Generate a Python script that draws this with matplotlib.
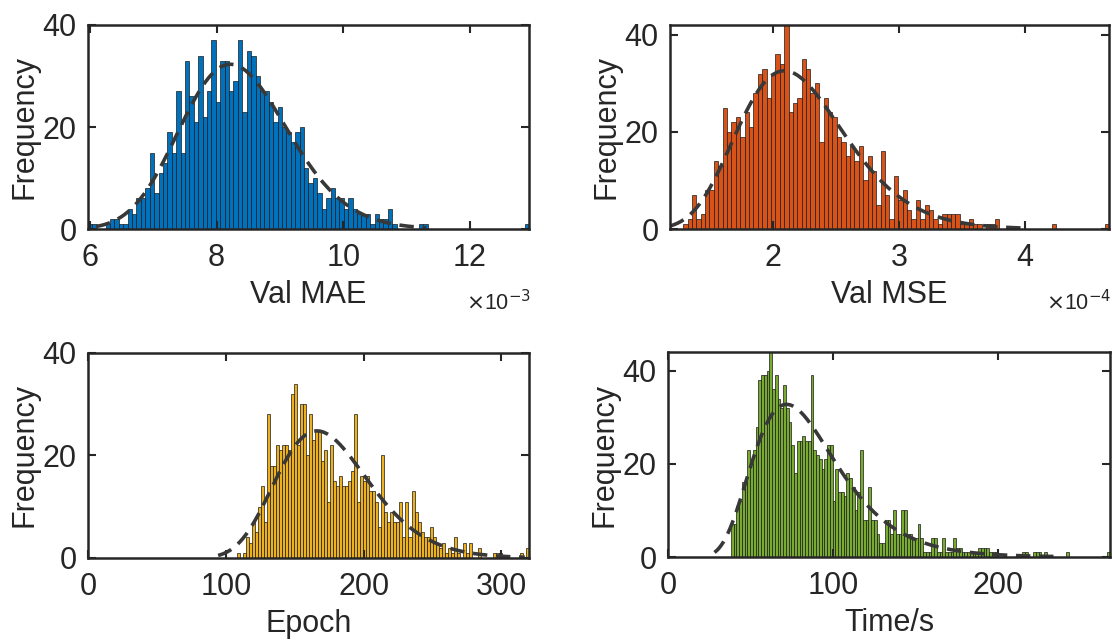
import numpy as np
import matplotlib
matplotlib.use('Agg')
import matplotlib.pyplot as plt

plt.rcParams['font.family'] = ['Liberation Sans', 'DejaVu Sans']
plt.rcParams['font.size'] = 22

# ---- data (bin counts, bins span [lo, hi]) ----
mae_lo, mae_hi = 5.97, 12.93          # x 1e-3
mae_counts = [1, 1, 0, 0, 1, 2, 2, 1, 1, 4, 3, 6, 6, 8, 15, 7, 11, 13, 19, 15,
              27, 15, 33, 26, 21, 34, 22, 27, 37, 25, 33, 33, 27, 29, 37, 23, 35, 34, 30, 27,
              27, 25, 21, 24, 20, 19, 17, 19, 20, 12, 9, 10, 7, 4, 6, 8, 6, 6, 4, 6,
              4, 3, 3, 3, 1, 3, 2, 2, 4, 1, 0, 0, 0, 0, 0, 1, 1, 0, 0, 0,
              0, 0, 0, 0, 0, 0, 0, 0, 0, 0, 0, 0, 0, 0, 0, 0, 0, 0, 0, 1]

mse_lo, mse_hi = 1.18, 4.67           # x 1e-4
mse_counts = [0, 0, 0, 1, 2, 7, 2, 3, 8, 8, 14, 13, 25, 20, 22, 23, 19, 24, 21, 28,
              32, 33, 27, 32, 36, 34, 42, 24, 26, 27, 35, 33, 28, 30, 18, 27, 24, 23, 19, 18,
              15, 17, 14, 17, 10, 15, 12, 5, 16, 7, 2, 11, 6, 8, 4, 2, 6, 2, 5, 4,
              2, 1, 3, 3, 3, 3, 1, 1, 2, 1, 1, 0, 1, 1, 2, 0, 0, 0, 0, 0,
              0, 0, 0, 0, 0, 0, 0, 1, 0, 0, 0, 0, 0, 0, 0, 0, 0, 0, 0, 1]

epoch_lo, epoch_hi = 108, 320
epoch_counts = [1, 0, 1, 4, 3, 7, 5, 10, 14, 7, 28, 18, 18, 22, 21, 22, 22, 21, 32, 34,
                22, 30, 30, 20, 28, 23, 25, 25, 19, 21, 11, 22, 15, 14, 16, 14, 14, 15, 17, 28,
                11, 16, 15, 16, 13, 13, 11, 6, 20, 9, 7, 9, 7, 7, 11, 4, 11, 4, 13, 9,
                7, 5, 4, 4, 6, 4, 3, 2, 3, 1, 2, 1, 4, 1, 0, 3, 1, 3, 0, 0,
                2, 0, 0, 0, 0, 1, 1, 1, 0, 0, 0, 0, 0, 0, 1, 0, 2]

time_lo, time_hi = 38.2, 268
time_counts = [7, 7, 11, 12, 16, 16, 23, 20, 23, 28, 38, 39, 39, 40, 44, 36, 39, 34, 32, 37,
               32, 29, 24, 18, 25, 25, 26, 25, 25, 39, 23, 22, 21, 19, 21, 24, 24, 12,
               19, 14, 14, 13, 18, 17, 15, 10, 14, 23, 8, 8, 15, 8, 8, 5, 3, 3, 8, 8,
               5, 10, 5, 5, 10, 10, 5, 5, 4, 4, 7, 4, 1, 1, 1, 4, 4, 1,
               1, 4, 1, 1, 1, 4, 2, 2, 1, 1, 1, 1, 1, 1, 2, 2, 2, 2, 1, 1,
               1, 0, 0, 0, 0, 0, 0, 0, 0, 0, 1, 1, 0, 0, 1, 1, 1, 0, 1, 0,
               0, 0, 0, 0, 0, 0, 1, 0, 0, 0, 0, 0, 0, 0, 0, 0, 0, 0, 0, 0,
               0, 1]

panels = [
    # counts, lo, hi, xlim, ylim, xticks, xlabel, color, exponent
    (mae_counts, mae_lo, mae_hi, (mae_lo, mae_hi), 40, [6, 8, 10, 12], 'Val MAE', '#0072BD', '-3'),
    (mse_counts, mse_lo, mse_hi, (mse_lo, mse_hi), 42, [2, 3, 4], 'Val MSE', '#D95319', '-4'),
    (epoch_counts, epoch_lo, epoch_hi, (0, 320), 40, [0, 100, 200, 300], 'Epoch', '#EDB120', None),
    (time_counts, time_lo, time_hi, (0, 268), 44, [0, 100, 200], 'Time/s', '#77AC30', None),
]

W, H = 1112, 641
fig = plt.figure(figsize=(W / 100, H / 100), dpi=100)
rects = [(0.0791, 0.6427, 0.3966, 0.3183),
         (0.6025, 0.6427, 0.3948, 0.3183),
         (0.0791, 0.1295, 0.3966, 0.3198),
         (0.6007, 0.1310, 0.3975, 0.3198)]

dark = '#262626'

for (counts, lo, hi, xl, ytop, xt, xlab, col, expo), r in zip(panels, rects):
    ax = fig.add_axes(r)
    counts = np.array(counts, dtype=float)
    edges = np.linspace(lo, hi, len(counts) + 1)
    bw = edges[1] - edges[0]
    ax.bar(edges[:-1], counts, width=bw, align='edge', color=col,
           edgecolor='#1a1a1a', linewidth=0.5)

    # lognormal fit scaled to histogram area (histfit style, 3-sigma range)
    c = (edges[:-1] + edges[1:]) / 2
    n = counts.sum()
    mu = (counts * np.log(c)).sum() / n
    sg = np.sqrt((counts * (np.log(c) - mu) ** 2).sum() / n)
    x = np.linspace(np.exp(mu - 3 * sg), np.exp(mu + 3 * sg), 200)
    y = n * bw / (x * sg * np.sqrt(2 * np.pi)) * np.exp(-(np.log(x) - mu) ** 2 / (2 * sg ** 2))
    ax.plot(x, y, color='#383838', lw=2.6, dashes=(4, 2.4))

    ax.set_xlim(*xl)
    ax.set_ylim(0, ytop)
    ax.set_xticks(xt)
    ax.set_yticks([0, 20, 40])
    ax.set_xlabel(xlab, color=dark, labelpad=5)
    ax.set_ylabel('Frequency', color=dark, labelpad=2)
    ax.tick_params(axis='x', pad=10)
    ax.tick_params(axis='y', pad=8)
    ax.tick_params(direction='in', length=6, width=1.5, top=True, right=True,
                   colors=dark, labelsize=22)
    for s in ax.spines.values():
        s.set_linewidth(1.8)
        s.set_color(dark)
    if expo:
        ax.text(1.005, -0.36, r'$\times$10$^{%s}$' % expo, transform=ax.transAxes,
                ha='right', va='center', fontsize=15.5, color=dark)

fig.savefig('out.png', dpi=100)
